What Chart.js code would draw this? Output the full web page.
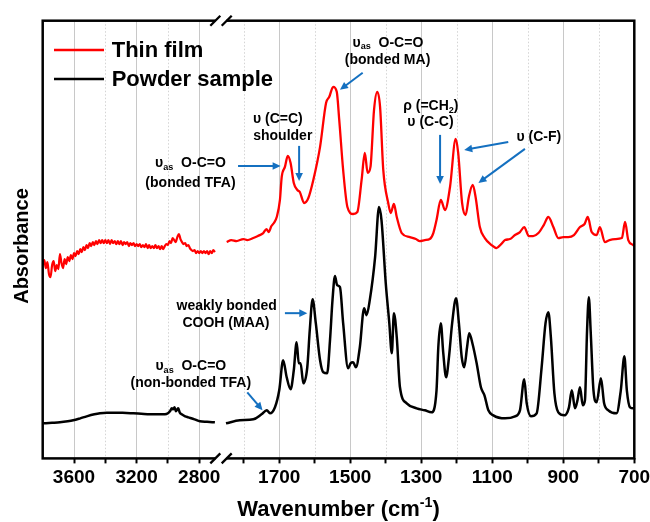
<!DOCTYPE html>
<html>
<head>
<meta charset="utf-8">
<script src="https://cdn.jsdelivr.net/npm/chart.js@4.4.1/dist/chart.umd.min.js"></script>
<style>
  html, body { margin: 0; padding: 0; background: #fff; }
  #ftir { display: block; }
</style>
</head>
<body>
<canvas id="ftir" width="650" height="522"></canvas>
<script>
// Spectra: wavenumber (cm-1) and absorbance (a.u., offset)
const filmHighWn = [3800, 3790, 3780, 3770, 3760, 3750, 3740, 3730, 3720, 3710,
  3700, 3690, 3680, 3670, 3660, 3650, 3640, 3630, 3620, 3610,
  3600, 3590, 3580, 3570, 3560, 3550, 3540, 3530, 3520, 3510,
  3500, 3490, 3480, 3470, 3460, 3450, 3440, 3430, 3420, 3410,
  3400, 3390, 3380, 3370, 3360, 3350, 3340, 3330, 3320, 3310,
  3300, 3290, 3280, 3270, 3260, 3250, 3240, 3230, 3220, 3210,
  3200, 3190, 3180, 3170, 3160, 3150, 3140, 3130, 3120, 3110,
  3100, 3090, 3080, 3070, 3060, 3050, 3040, 3030, 3020, 3010,
  3000, 2990, 2980, 2970, 2960, 2950, 2940, 2930, 2920, 2910,
  2900, 2890, 2880, 2870, 2860, 2850, 2840, 2830, 2820, 2810,
  2800, 2790, 2780, 2770, 2760, 2750, 2740, 2730, 2720, 2710, 2700];
const filmHighAbs = [1.93, 1.98, 1.90, 1.96, 1.84, 1.81, 1.93, 1.97, 1.87, 1.93,
  1.89, 2.04, 1.95, 1.90, 1.99, 1.94, 2.01, 1.97, 2.03, 1.99,
  2.05, 2.02, 2.07, 2.04, 2.09, 2.06, 2.11, 2.08, 2.13, 2.10,
  2.15, 2.12, 2.16, 2.13, 2.17, 2.14, 2.18, 2.15, 2.18, 2.15,
  2.18, 2.15, 2.18, 2.14, 2.18, 2.15, 2.17, 2.14, 2.17, 2.14,
  2.17, 2.13, 2.16, 2.14, 2.16, 2.12, 2.15, 2.13, 2.15, 2.12,
  2.14, 2.12, 2.14, 2.11, 2.13, 2.11, 2.14, 2.10, 2.13, 2.10,
  2.12, 2.10, 2.13, 2.10, 2.12, 2.09, 2.12, 2.09, 2.12, 2.14,
  2.13, 2.17, 2.15, 2.20, 2.18, 2.16, 2.21, 2.24, 2.19, 2.16,
  2.14, 2.15, 2.12, 2.13, 2.10, 2.08, 2.07, 2.08, 2.05, 2.07,
  2.05, 2.07, 2.05, 2.07, 2.05, 2.07, 2.04, 2.07, 2.05, 2.08, 2.06];

const filmLowWn = [1848, 1835, 1820, 1801, 1790, 1773, 1760, 1745, 1736, 1730, 1722, 1715, 1707,
  1698, 1693, 1684, 1676, 1668, 1659, 1649, 1642, 1630, 1618, 1604, 1585, 1568, 1559, 1548,
  1538, 1531, 1520, 1508, 1492, 1480, 1468, 1459, 1451, 1443, 1433, 1424, 1416, 1407, 1393,
  1386, 1377, 1369, 1355, 1332, 1315, 1304, 1290, 1276, 1266, 1257, 1245, 1233, 1219, 1203,
  1196, 1185, 1175, 1166, 1155, 1147, 1135, 1121, 1102, 1088, 1075, 1064, 1050, 1036, 1022,
  1010, 997, 985, 970, 955, 942, 928, 914, 900, 886, 870, 853, 840, 831, 820, 806, 797,
  783, 770, 754, 735, 726, 717, 703, 700];
const filmLowAbs = [2.16, 2.18, 2.17, 2.19, 2.18, 2.20, 2.22, 2.25, 2.29, 2.26, 2.32, 2.35, 2.41,
  2.58, 2.81, 2.91, 3.02, 2.95, 2.75, 2.68, 2.66, 2.55, 2.60, 2.78, 3.11, 3.55, 3.61, 3.71,
  3.66, 3.38, 2.88, 2.51, 2.44, 2.46, 2.78, 3.05, 2.85, 2.91, 3.48, 3.66, 3.51, 2.88, 2.55,
  2.45, 2.54, 2.41, 2.25, 2.21, 2.19, 2.17, 2.18, 2.19, 2.25, 2.38, 2.58, 2.48, 2.71, 3.19,
  3.05, 2.55, 2.43, 2.61, 2.73, 2.61, 2.31, 2.20, 2.13, 2.10, 2.14, 2.18, 2.19, 2.23, 2.26,
  2.31, 2.22, 2.22, 2.25, 2.33, 2.41, 2.31, 2.20, 2.21, 2.21, 2.23, 2.31, 2.34, 2.41, 2.26, 2.23, 2.31,
  2.16, 2.18, 2.19, 2.20, 2.36, 2.18, 2.13, 2.12];

const powderHighWn = [3800, 3740, 3690, 3640, 3605, 3560, 3519, 3470, 3434, 3390, 3349, 3290,
  3221, 3170, 3115, 3060, 3019, 3000, 2987, 2975, 2966, 2958, 2949, 2940, 2934, 2925, 2912,
  2890, 2870, 2830, 2796, 2750, 2700];
const powderHighAbs = [0.35, 0.355, 0.36, 0.37, 0.38, 0.40, 0.42, 0.44, 0.45, 0.455, 0.455, 0.455,
  0.45, 0.445, 0.44, 0.44, 0.44, 0.45, 0.47, 0.50, 0.49, 0.51, 0.47, 0.49, 0.50, 0.46, 0.44,
  0.42, 0.41, 0.39, 0.37, 0.365, 0.36];

const powderLowWn = [1850, 1811, 1773, 1750, 1735, 1726, 1712, 1700, 1689, 1679, 1668, 1659, 1651,
  1645, 1640, 1632, 1621, 1614, 1606, 1597, 1585, 1576, 1565, 1557, 1550, 1543, 1537, 1529,
  1520, 1506, 1499, 1492, 1484, 1473, 1461, 1454, 1445, 1430, 1419, 1412, 1400, 1390, 1383,
  1377, 1369, 1360, 1341, 1313, 1290, 1271, 1257, 1252, 1245, 1238, 1230, 1222, 1213, 1202,
  1194, 1186, 1179, 1171, 1165, 1156, 1144, 1132, 1122, 1111, 1097, 1064, 1036, 1022, 1010,
  1003, 991, 975, 961, 950, 942, 935, 925, 914, 897, 884, 876, 867, 860, 853, 845, 839,
  833, 828, 823, 815, 806, 794, 785, 773, 750, 738, 728, 721, 712, 703, 700];
const powderLowAbs = [0.35, 0.38, 0.39, 0.44, 0.48, 0.45, 0.51, 0.68, 0.98, 0.81, 0.69, 0.88, 1.16,
  0.95, 0.95, 0.75, 0.91, 1.28, 1.59, 1.35, 0.98, 0.86, 0.85, 1.18, 1.58, 1.82, 1.73, 1.71,
  1.35, 0.90, 0.95, 0.96, 0.91, 1.11, 1.50, 1.43, 1.58, 2.01, 2.51, 2.38, 1.75, 1.35, 1.05,
  1.45, 1.21, 0.71, 0.55, 0.50, 0.48, 0.46, 0.68, 1.11, 1.35, 1.05, 0.81, 1.01, 1.35, 1.60,
  1.35, 1.01, 0.91, 1.11, 1.25, 1.15, 0.95, 0.71, 0.63, 0.48, 0.43, 0.40, 0.42, 0.48, 0.79,
  0.55, 0.42, 0.45, 0.91, 1.35, 1.46, 1.21, 0.65, 0.46, 0.43, 0.51, 0.68, 0.50, 0.58, 0.71, 0.53, 0.58,
  1.28, 1.61, 1.28, 0.68, 0.56, 0.80, 0.55, 0.48, 0.45, 0.68, 1.02, 0.68, 0.51, 0.50, 0.50];

// axis ticks (broken axis: high range | low range)
const highTicks = [3600, 3400, 3200, 3000, 2800];
const highLabels = [3600, 3200, 2800];
const lowTicks = [1800, 1700, 1600, 1500, 1400, 1300, 1200, 1100, 1000, 900, 800, 700];
const lowLabels = [1700, 1500, 1300, 1100, 900, 700];

const FONT = '"Liberation Sans", Arial, sans-serif';
const BLUE = '#1470c0';

// annotation texts, anchored in (wavenumber, absorbance) of the low range
const notes = [
  [1950, 2.95, [['υ'], ['as', 'sub'], ['  O-C=O']]],
  [1950, 2.75, [['(bonded TFA)']]],
  [1704, 3.39, [['υ (C=C)']]],
  [1690, 3.22, [['shoulder']]],
  [1394, 4.15, [['υ'], ['as', 'sub'], ['  O-C=O']]],
  [1395, 3.98, [['(bonded MA)']]],
  [1273, 3.52, [['ρ (=CH'], ['2', 'sub'], [')']]],
  [1274, 3.36, [['υ (C-C)']]],
  [969, 3.21, [['υ (C-F)']]],
  [1848, 1.52, [['weakly bonded']]],
  [1850, 1.35, [['COOH (MAA)']]],
  [1949, 0.92, [['υ'], ['as', 'sub'], ['  O-C=O']]],
  [1949, 0.75, [['(non-bonded TFA)']]]
];
const arrows = [
  [1816, 2.92, 1696, 2.92],
  [1644, 3.12, 1644, 2.77],
  [1465, 3.85, 1529, 3.68],
  [1247, 3.23, 1247, 2.74],
  [1055, 3.16, 1179, 3.08],
  [1008, 3.09, 1139, 2.75],
  [1684, 1.45, 1621, 1.45],
  [1790, 0.66, 1747, 0.48]
];

function pairs(xs, ys) {
  return xs.map((x, i) => ({x: x, y: ys[i]}));
}

function drawRich(ctx, parts, cx, cy, size) {
  const small = size * 0.65;
  const widths = parts.map(p => {
    ctx.font = 'bold ' + (p[1] ? small : size) + 'px ' + FONT;
    return ctx.measureText(p[0]).width;
  });
  let x = cx - widths.reduce((a, b) => a + b, 0) / 2;
  parts.forEach((p, i) => {
    ctx.font = 'bold ' + (p[1] ? small : size) + 'px ' + FONT;
    const dy = p[1] === 'sub' ? size * 0.3 : (p[1] === 'sup' ? -size * 0.33 : 0);
    ctx.fillText(p[0], x, cy + dy);
    x += widths[i];
  });
}

const decor = {
  id: 'decor',
  beforeDatasetsDraw(chart) {
    const {ctx, chartArea: a} = chart;
    ctx.save();
    ctx.strokeStyle = '#d4d4d4';
    ctx.lineWidth = 1;
    ctx.setLineDash([1.5, 2]);
    [['xHigh', highTicks, highLabels], ['xLow', lowTicks, lowLabels]].forEach(([id, all, maj]) => {
      const s = chart.scales[id];
      all.filter(v => !maj.includes(v)).forEach(v => {
        const x = Math.round(s.getPixelForValue(v)) + 0.5;
        ctx.beginPath();
        ctx.moveTo(x, a.top);
        ctx.lineTo(x, a.bottom);
        ctx.stroke();
      });
    });
    ctx.restore();
  },
  afterDraw(chart) {
    const {ctx, chartArea: a} = chart;
    const xs = chart.scales.xLow, ys = chart.scales.y;
    ctx.save();
    // frame
    ctx.strokeStyle = '#000';
    ctx.lineWidth = 2.5;
    ctx.strokeRect(a.left, a.top, a.right - a.left, a.bottom - a.top);
    // axis break marks
    const b = chart.scales.xHigh.right;
    [a.top, a.bottom].forEach(y => {
      ctx.fillStyle = '#fff';
      ctx.fillRect(b - 5.5, y - 2, 11, 4);
      ctx.lineWidth = 2.3;
      [b - 5.7, b + 5.7].forEach(c => {
        ctx.beginPath();
        ctx.moveTo(c - 5, y + 5);
        ctx.lineTo(c + 5, y - 5);
        ctx.stroke();
      });
    });
    // legend
    ctx.lineWidth = 2.5;
    ctx.textBaseline = 'middle';
    ctx.textAlign = 'left';
    ctx.font = 'bold 22px ' + FONT;
    [['Thin film', '#ff0000', 29.3], ['Powder sample', '#000000', 58.3]].forEach(([t, c, dy]) => {
      ctx.strokeStyle = c;
      ctx.beginPath();
      ctx.moveTo(a.left + 11.3, a.top + dy);
      ctx.lineTo(a.left + 61.3, a.top + dy);
      ctx.stroke();
      ctx.fillStyle = '#000';
      ctx.fillText(t, a.left + 69, a.top + dy + 1);
    });
    // axis titles
    ctx.fillStyle = '#000';
    drawRich(ctx, [['Wavenumber (cm'], ['-1', 'sup'], [')']], (a.left + a.right) / 2, a.bottom + 51.6, 22);
    ctx.save();
    ctx.translate(22.7, 246);
    ctx.rotate(-Math.PI / 2);
    drawRich(ctx, [['Absorbance']], 0, 0, 20);
    ctx.restore();
    // annotations
    notes.forEach(([w, v, parts]) => {
      drawRich(ctx, parts, xs.getPixelForValue(w), ys.getPixelForValue(v), 14);
    });
    ctx.strokeStyle = BLUE;
    ctx.fillStyle = BLUE;
    ctx.lineWidth = 2;
    arrows.forEach(([w1, v1, w2, v2]) => {
      const x1 = xs.getPixelForValue(w1), y1 = ys.getPixelForValue(v1);
      const x2 = xs.getPixelForValue(w2), y2 = ys.getPixelForValue(v2);
      const ang = Math.atan2(y2 - y1, x2 - x1);
      const hl = 8, hw = 3.8;
      ctx.beginPath();
      ctx.moveTo(x1, y1);
      ctx.lineTo(x2 - Math.cos(ang) * hl * 0.8, y2 - Math.sin(ang) * hl * 0.8);
      ctx.stroke();
      ctx.beginPath();
      ctx.moveTo(x2, y2);
      ctx.lineTo(x2 - Math.cos(ang) * hl - Math.sin(ang) * hw, y2 - Math.sin(ang) * hl + Math.cos(ang) * hw);
      ctx.lineTo(x2 - Math.cos(ang) * hl + Math.sin(ang) * hw, y2 - Math.sin(ang) * hl - Math.cos(ang) * hw);
      ctx.closePath();
      ctx.fill();
    });
    ctx.restore();
  }
};

function xAxis(min, max, weight, order, ticksAll, labels) {
  return {
    type: 'linear',
    position: 'bottom',
    stack: 'wn',
    stackWeight: weight,
    weight: order,
    reverse: true,
    min: min,
    max: max,
    afterBuildTicks: s => { s.ticks = ticksAll.map(v => ({value: v})); },
    // edge labels may hang over the frame; keep the plot area fixed by the layout padding
    afterFit: s => { s.paddingLeft = 0; s.paddingRight = 0; },
    ticks: {
      autoSkip: false,
      maxRotation: 0,
      padding: 3,
      color: '#000',
      font: {family: FONT, size: 19, weight: 'bold'},
      callback: v => labels.includes(v) ? String(v) : ''
    },
    grid: {
      color: c => (c.tick && labels.includes(c.tick.value)) ? '#c8c8c8' : 'rgba(0,0,0,0)',
      lineWidth: 1,
      drawTicks: true,
      tickLength: 5,
      tickColor: '#000',
      tickWidth: 2
    },
    border: {display: false}
  };
}

const lineStyle = (color, width) => ({
  borderColor: color,
  borderWidth: width,
  pointRadius: 0,
  fill: false,
  cubicInterpolationMode: 'monotone'
});

new Chart(document.getElementById('ftir').getContext('2d'), {
  type: 'line',
  data: {
    datasets: [
      Object.assign({label: 'Thin film', data: pairs(filmHighWn, filmHighAbs), xAxisID: 'xHigh'}, lineStyle('#ff0000', 2.2)),
      Object.assign({label: 'Thin film', data: pairs(filmLowWn, filmLowAbs), xAxisID: 'xLow'}, lineStyle('#ff0000', 2.3)),
      Object.assign({label: 'Powder sample', data: pairs(powderHighWn, powderHighAbs), xAxisID: 'xHigh'}, lineStyle('#000000', 2.5)),
      Object.assign({label: 'Powder sample', data: pairs(powderLowWn, powderLowAbs), xAxisID: 'xLow'}, lineStyle('#000000', 2.5))
    ]
  },
  options: {
    responsive: false,
    animation: false,
    devicePixelRatio: 1,
    parsing: false,
    layout: {padding: {left: 42.7, right: 15.7, top: 20.7, bottom: 29.8}},
    plugins: {legend: {display: false}, tooltip: {enabled: false}},
    scales: {
      xHigh: xAxis(2661, 3800, 178.3, 1, highTicks, highLabels),
      xLow: xAxis(700, 1864, 413.3, 2, lowTicks, lowLabels),
      y: {display: false, min: 0, max: 4.37}
    }
  },
  plugins: [decor]
});
</script>
</body>
</html>
